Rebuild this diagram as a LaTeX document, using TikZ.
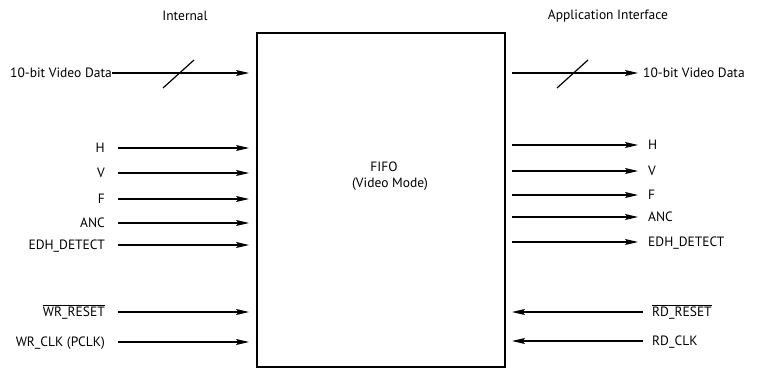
\documentclass[tikz,border=0pt]{standalone}
\usepackage{fontspec}
\setmainfont{PT Sans}
\usetikzlibrary{arrows.meta,calc}
\tikzset{>={Stealth[length=13pt,width=6pt,inset=2.5pt]}}

\begin{document}
\begin{tikzpicture}[x=1pt,y=-1pt,
    sig/.style={font=\fontsize{13.5}{15.5}\selectfont,inner sep=0pt,text height=9.4pt,text depth=0pt},
    wire/.style={->,line width=1.2pt}]
  \useasboundingbox (0,0) rectangle (761,369);
  % the FIFO block
  \node[draw,line width=1.3pt,minimum width=248pt,minimum height=334pt,inner sep=0pt] (fifo) at (381,200) {};
  \node[sig,align=center,text height=,text depth=] (fifolbl) at (390,176) {FIFO\hspace*{12pt}\\(Video Mode)};
  \node[sig] (intlbl) at (185,16) {Internal};
  \node[sig] (applbl) at (608,15) {Application Interface};
  \coordinate (inL) at (249,0);
  \coordinate (inR) at (512,0);
  \coordinate (outR) at (638,0);
  % write side
  \node[sig,anchor=east] (vdin) at (112,73) {10-bit Video Data};
  \node[sig,anchor=east] (hin) at (105,148) {H};
  \node[sig,anchor=east] (vin) at (105,173) {V};
  \node[sig,anchor=east] (fin) at (105,199) {F};
  \node[sig,anchor=east] (ancin) at (105,223) {ANC};
  \node[sig,anchor=east] (edhin) at (105,245) {EDH\_DETECT};
  \node[sig,anchor=east] (wrrst) at (105,312) {$\overline{\hbox{WR\_RESET}}$};
  \node[sig,anchor=east] (wrclk) at (105,342) {WR\_CLK (PCLK)};
  \draw[wire] (vdin.east) -- (vdin -| inL);
  \draw[wire] ([xshift=13pt]hin.east) -- (hin -| inL);
  \draw[wire] ([xshift=13pt]vin.east) -- (vin -| inL);
  \draw[wire] ([xshift=13pt]fin.east) -- (fin -| inL);
  \draw[wire] ([xshift=13pt]ancin.east) -- (ancin -| inL);
  \draw[wire] ([xshift=13pt]edhin.east) -- (edhin -| inL);
  \draw[wire] ([xshift=13pt]wrrst.east) -- (wrrst -| inL);
  \draw[wire] ([xshift=13pt]wrclk.east) -- (wrclk -| inL);
  % read side
  \node[sig,anchor=west] (vdout) at (643,73) {10-bit Video Data};
  \node[sig,anchor=west] (hout) at (648,145) {H};
  \node[sig,anchor=west] (vout) at (648,171) {V};
  \node[sig,anchor=west] (fout) at (648,195) {F};
  \node[sig,anchor=west] (ancout) at (648,217) {ANC};
  \node[sig,anchor=west] (edhout) at (648,242) {EDH\_DETECT};
  \node[sig,anchor=west] (rdrst) at (652,312) {$\overline{\hbox{RD\_RESET}}$};
  \node[sig,anchor=west] (rdclk) at (652,341) {RD\_CLK};
  \draw[wire] (vdout -| inR) -- (vdout -| outR);
  \draw[wire] (hout -| inR) -- (hout -| outR);
  \draw[wire] (vout -| inR) -- (vout -| outR);
  \draw[wire] (fout -| inR) -- (fout -| outR);
  \draw[wire] (ancout -| inR) -- (ancout -| outR);
  \draw[wire] (edhout -| inR) -- (edhout -| outR);
  \draw[wire] ([xshift=-9pt]rdrst.west) -- (rdrst -| inR);
  \draw[wire] ([xshift=-9pt]rdclk.west) -- (rdclk -| inR);
  % bus slashes
  \coordinate (busL) at (178,74);
  \coordinate (busR) at (572,74);
  \draw[line width=1.2pt] (busL) +(-15,14) -- +(16,-14);
  \draw[line width=1.2pt] (busR) +(-15,14) -- +(16,-14);
\end{tikzpicture}
\end{document}
